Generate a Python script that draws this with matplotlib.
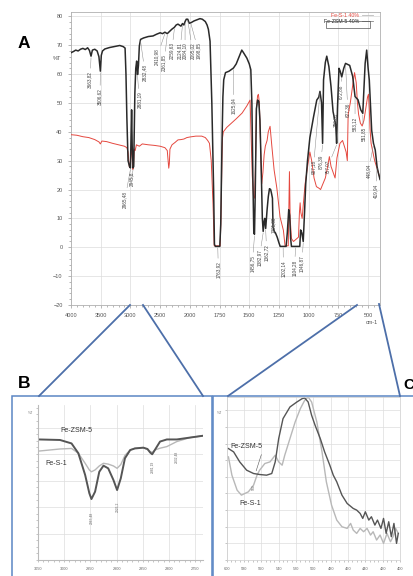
import matplotlib
matplotlib.use("Agg")
import matplotlib.pyplot as plt
import numpy as np
from matplotlib.lines import Line2D
from matplotlib.patches import Rectangle

plt.rcParams['font.family'] = ['Liberation Sans', 'DejaVu Sans']

# ---- panel A : full spectra (wavenumber, %T) ----
black_w = [4000, 3960, 3920, 3880, 3840, 3800, 3760, 3720, 3690, 3663, 3640, 3600, 3560, 3530,
           3506, 3490, 3470, 3430, 3350, 3250, 3180, 3120, 3090, 3075, 3060, 3040, 3015, 3000,
           2990, 2980, 2970, 2955, 2945, 2935, 2925, 2910, 2895, 2880, 2865, 2850, 2830, 2780,
           2700, 2620, 2560, 2500, 2460, 2420, 2380, 2330, 2305, 2260, 2230, 2200, 2150, 2124,
           2100, 2080, 2060, 2035, 2010, 1990, 1965, 1940, 1915, 1895, 1870, 1855, 1844, 1830,
           1815, 1800, 1793, 1785, 1765, 1748, 1740, 1730, 1722, 1715, 1700, 1670, 1633, 1610,
           1580, 1563, 1550, 1520, 1500, 1487, 1478, 1470, 1462, 1456, 1450, 1440, 1430, 1420,
           1410, 1400, 1390, 1383, 1375, 1370, 1362, 1350, 1340, 1330, 1320, 1312, 1305, 1300,
           1290, 1280, 1265, 1250, 1240, 1190, 1180, 1168, 1160, 1152, 1145, 1075, 1068, 1058,
           1046, 1035, 1025, 1010, 990, 960, 932, 915, 905, 892, 883, 875, 860, 848, 830, 812,
           795, 785, 772, 765, 758, 745, 735, 722, 705, 690, 655, 630, 610, 585, 562, 545, 535,
           525, 512, 500, 490, 470, 455, 440, 425, 415, 400]
black_t = [67.4, 67.8, 68.3, 68.0, 68.6, 68.9, 68.5, 69.1, 68.2, 66.2, 68.3, 68.6, 68.0, 66.0,
           61.0, 66.5, 68.0, 68.7, 69.2, 69.6, 69.9, 69.5, 69.0, 60.0, 45.0, 30.0, 28.0, 27.5,
           38.0, 47.6, 35.0, 27.5, 28.0, 40.0, 53.6, 62.0, 64.5, 59.8, 63.0, 69.7, 72.0, 72.5,
           73.0, 73.2, 73.8, 74.3, 74.0, 74.5, 74.0, 75.0, 75.5, 76.2, 77.0, 77.3, 76.6, 77.5,
           77.0, 78.2, 79.0, 79.0, 77.6, 77.8, 78.4, 78.8, 79.2, 79.0, 78.2, 77.0, 75.5, 71.4,
           50.0, 20.0, 1.0, 0.3, 0.3, 0.3, 8.0, 35.0, 52.0, 58.0, 60.5, 61.0, 62.1, 63.5,
           66.5, 68.3, 67.5, 65.5, 63.5, 61.5, 50.0, 25.0, 5.0, 4.5, 18.0, 48.0, 51.0, 50.5,
           44.0, 28.0, 10.0, 5.5, 9.0, 10.0, 6.5, 13.0, 17.5, 20.3, 20.0, 18.5, 17.0, 7.0,
           5.5, 5.0, 3.5, 1.5, 0.3, 0.3, 5.0, 13.0, 11.0, 3.0, 0.3, 0.3, 6.0, 5.0,
           2.0, 12.0, 22.0, 30.0, 38.0, 45.0, 51.0, 52.0, 54.0, 50.0, 36.0, 58.0, 64.0, 66.2, 62.6, 55.6,
           47.0, 45.0, 42.0, 36.0, 48.0, 62.0, 61.0, 59.0, 62.0, 63.7, 63.0, 59.2, 52.2, 51.1, 47.6, 46.4, 55.0,
           63.7, 68.3, 62.0, 57.9, 40.5, 36.0, 33.7, 28.0, 26.0, 23.5]

red_w = [4000, 3900, 3800, 3700, 3600, 3530, 3506, 3480, 3400, 3300, 3200, 3100, 3060, 3040,
         3020, 3005, 2990, 2975, 2960, 2948, 2935, 2920, 2900, 2850, 2800, 2700, 2600, 2500,
         2420, 2380, 2365, 2355, 2345, 2335, 2300, 2250, 2200, 2150, 2100, 2050, 2000, 1950,
         1900, 1870, 1850, 1835, 1820, 1805, 1795, 1745, 1738, 1730, 1725, 1718, 1690, 1650,
         1610, 1560, 1520, 1493, 1485, 1475, 1465, 1455, 1447, 1440, 1430, 1423, 1415, 1405,
         1395, 1385, 1375, 1365, 1350, 1340, 1325, 1310, 1291, 1268, 1241, 1213, 1199, 1172,
         1166, 1162, 1156, 1145, 1128, 1100, 1086, 1078, 1072, 1066, 1055, 1045, 1030, 1003,
         990, 975, 955, 935, 915, 900, 885, 860, 845, 826, 812, 795, 778, 762, 737, 715,
         700, 685, 675, 668, 650, 630, 614, 600, 590, 580, 565, 550, 535, 520, 505, 497,
         490, 484, 475, 460, 445, 430, 415, 400]
red_t = [39.0, 38.8, 38.3, 38.0, 37.3, 36.5, 35.8, 36.8, 36.6, 36.0, 35.5, 35.0, 34.5, 33.0,
         28.0, 27.5, 34.0, 32.0, 27.0, 28.0, 34.0, 33.5, 35.5, 35.0, 35.8, 35.5, 35.3, 35.0,
         34.5, 33.5, 30.0, 27.4, 29.0, 34.0, 35.5, 36.3, 37.2, 37.3, 37.5, 38.0, 38.2, 38.5,
         38.5, 38.0, 37.0, 36.0, 30.0, 15.0, 0.5, 0.5, 10.0, 30.0, 38.0, 40.0, 41.5, 43.0,
         44.5, 46.5, 49.0, 51.0, 40.0, 25.0, 18.0, 17.0, 30.0, 48.0, 52.5, 53.0, 50.0, 35.0,
         22.0, 26.0, 32.0, 35.0, 37.0, 40.0, 41.9, 35.0, 26.8, 20.5, 10.5, 5.9, 0.5, 0.5,
         15.0, 26.2, 10.0, 3.0, 2.0, 3.0, 3.5, 12.0, 15.4, 12.0, 10.0, 15.0, 22.0, 29.7,
         33.0, 30.0, 24.0, 21.0, 20.5, 20.0, 21.5, 24.0, 27.0, 31.4, 28.0, 26.0, 24.0, 31.0, 36.0, 37.0,
         35.0, 33.0, 30.0, 46.0, 50.0, 56.0, 60.5, 57.0, 50.0, 46.0, 43.0, 42.0, 44.0, 48.0, 52.0, 53.0,
         48.0, 41.0, 36.0, 33.0, 30.0, 28.0, 26.0, 24.0]

# peak labels: text, peak position, label centre (wavenumber, %T)
peak_txt = ["3663,82", "3506,62", "2965,48", "2945,8", "2881,19", "2832,48", "2410,98", "2361,85",
            "2259,63", "2124,81", "2084,10", "2095,02", "1998,85", "1763,92", "1625,04", "1456,75",
            "1382,97", "1362,72", "1301,00", "1202,14", "1104,28", "1046,87", "907,18", "876,39",
            "757,07", "789,81", "672,88", "627,36", "583,12", "551,85", "448,94", "419,94"]
peak_pos = [3663, 3506, 3000, 2955, 2880, 2830, 2420, 2380, 2260, 2124, 2080, 2035, 1990, 1765,
            1633, 1456, 1383, 1362, 1300, 1215, 1110, 1046, 905, 883, 765, 785, 722, 690, 610, 545, 455, 425]
lab_w = [3680, 3512, 3091, 2979, 2850, 2754, 2552, 2434, 2305, 2165, 2081, 1976, 1928, 1760,
         1634, 1474, 1415, 1353, 1297, 1213, 1120, 1058, 960, 898, 840, 778, 736, 671, 610, 540, 497, 433]
lab_t = [58.1, 52.2, 16.7, 23.7, 51.1, 60.5, 66.0, 64.0, 68.0, 68.0, 68.0, 68.0, 68.0, -7.7,
         49.0, -5.6, -3.5, -1.7, 7.7, -7.3, -7.0, -5.6, 27.8, 29.6, 27.8, 44.0, 54.0, 47.7, 42.8, 39.3, 26.4, 19.5]

xticks_a = [4000, 3500, 3000, 2500, 2000, 1750, 1500, 1250, 1000, 750, 500]
yticks_a = [-20, -10, 0, 10, 20, 30, 40, 50, 60, 70, 80]

# ---- panel B : 3050-2735 zoom ----
b_w = [3049, 3008, 2986, 2973, 2960, 2952, 2948, 2941, 2933, 2925, 2916, 2906, 2899, 2892, 2884,
       2874, 2865, 2849, 2841, 2836, 2832, 2827, 2817, 2804, 2785, 2760, 2735]
b_zsm = [4.55, 4.53, 4.40, 4.03, 3.21, 2.52, 2.30, 2.58, 3.33, 3.56, 3.46, 3.02, 2.64, 3.08, 3.84,
         4.15, 4.21, 4.24, 4.19, 4.06, 3.99, 4.15, 4.47, 4.55, 4.55, 4.62, 4.69]
b_s1 = [4.11, 4.19, 4.21, 4.03, 3.65, 3.40, 3.33, 3.40, 3.55, 3.65, 3.62, 3.55, 3.46, 3.60, 3.95,
        4.15, 4.22, 4.24, 4.17, 4.10, 4.06, 4.15, 4.22, 4.28, 4.47, 4.62, 4.69]
b_ticks = [3050, 3000, 2950, 2900, 2850, 2800, 2750]

# ---- panel C : 600-400 zoom ----
c_zsm_w = [598, 592, 585, 577, 569, 562, 554, 548, 544, 540, 535, 527, 519, 513, 510, 506, 502,
           498, 492, 487, 481, 477, 473, 467, 461, 454, 450, 446, 443, 440, 436, 433, 429, 426,
           422, 419, 416, 413, 410, 407, 404, 402]
c_zsm = [6.7, 6.5, 5.9, 5.4, 5.2, 5.14, 5.1, 5.2, 5.9, 7.3, 8.5, 9.2, 9.5, 9.7, 9.74, 9.5, 8.7,
         8.1, 7.3, 6.5, 5.7, 5.1, 4.7, 3.9, 3.4, 3.1, 3.0, 2.8, 2.5, 2.9, 2.4, 2.6, 2.1, 2.4,
         1.9, 2.5, 1.6, 2.3, 1.4, 2.2, 1.0, 1.6]
c_s1_w = [598, 594, 588, 583, 575, 569, 565, 562, 556, 550, 544, 540, 536, 533, 527, 521, 515,
          510, 506, 502, 496, 490, 485, 479, 473, 467, 461, 457, 454, 450, 446, 442, 438, 434,
          431, 427, 423, 419, 415, 411, 408, 405, 402]
c_s1 = [6.2, 5.1, 4.2, 3.9, 4.1, 4.5, 5.1, 5.4, 5.8, 5.9, 6.3, 5.9, 5.7, 6.3, 7.3, 8.3, 9.1,
        9.6, 9.8, 9.5, 8.3, 6.5, 4.7, 3.3, 2.4, 2.0, 1.9, 2.2, 1.8, 1.6, 1.9, 1.7, 1.9, 1.5,
        1.7, 1.2, 1.5, 1.0, 1.6, 1.1, 1.4, 1.9, 1.6]
c_ticks = [600, 580, 560, 540, 520, 500, 480, 460, 440, 420, 400]

W, H = 414, 576
fig = plt.figure(figsize=(W / 100, H / 100), dpi=100)


def fax(x0, y0, x1, y1):
    # pixel box -> figure fraction
    return [x0 / W, 1 - y1 / H, (x1 - x0) / W, (y1 - y0) / H]


def fwd(w):
    w = np.asarray(w, dtype=float)
    return np.where(w >= 2000, 4 + (w - 2000) / 500, 4 + (w - 2000) / 250)


def inv(u):
    u = np.asarray(u, dtype=float)
    return np.where(u >= 4, 2000 + (u - 4) * 500, 2000 + (u - 4) * 250)


grey = '#9a9a9a'
ax = fig.add_axes(fax(71, 12, 380, 305))
ax.set_xscale('function', functions=(fwd, inv))
ax.plot(red_w, red_t, color='#e5483f', lw=0.7, zorder=3)
ax.plot(black_w, black_t, color='#2a2a2a', lw=1.1, zorder=4)
ax.set_xlim(4000, 400)
ax.set_ylim(-20, 81.5)
ax.set_xticks(xticks_a)
ax.set_xticks(list(range(3900, 2000, -100)) + list(range(1950, 400, -50)), minor=True)
ax.set_yticks(yticks_a)
ax.set_yticks(range(-20, 82, 2), minor=True)
ax.grid(True, which='major', color='#dcdcdc', lw=0.5)
ax.tick_params(which='both', labelsize=4, colors=grey, labelcolor='#555555', width=0.5)
ax.tick_params(which='major', length=2.5)
ax.tick_params(which='minor', length=1.5)
for s in ax.spines.values():
    s.set_color('#b0b0b0')
    s.set_linewidth(0.6)
ax.text(-0.045, 0.835, '%T', transform=ax.transAxes, fontsize=4, color='#555555', ha='center')
ax.text(0.975, -0.065, 'cm-1', transform=ax.transAxes, fontsize=4, color='#555555', ha='center')

bw_inc = np.array(black_w[::-1])
bt_inc = np.array(black_t[::-1])
for txt, p, lw_, lt in zip(peak_txt, peak_pos, lab_w, lab_t):
    py = np.interp(p, bw_inc, bt_inc)
    ax.annotate(txt, xy=(p, py - 0.5), xytext=(lw_, lt), rotation=90, fontsize=3.3,
                color='#444444', ha='center', va='center', zorder=5,
                arrowprops=dict(arrowstyle='-', color='#8a8a8a', lw=0.35, shrinkA=0, shrinkB=0))

leg = ax.legend([Line2D([], [], color='#bbbbbb', lw=0.6), Line2D([], [], color='#888888', lw=0.6)],
                ['Fe-S-1 40%', 'Fe-ZSM-5 40%'], loc='upper right', bbox_to_anchor=(0.99, 1.01),
                fontsize=3.8, frameon=False, markerfirst=False, handlelength=2.2,
                labelspacing=0.2, borderpad=0.2, handletextpad=0.5)
leg.get_texts()[0].set_color('#e5483f')
leg.get_texts()[1].set_color('#222222')
fig.add_artist(Rectangle((326 / W, 1 - 28 / H), 44 / W, 7 / H, transform=fig.transFigure,
                         fill=False, lw=0.5, ec='#555555'))

# ---- panel B ----
bx = fig.add_axes(fax(38, 405, 203, 560))
bx.plot(b_w, b_s1, color='#b8b8b8', lw=1.0)
bx.plot(b_w, b_zsm, color='#555555', lw=1.4)
bx.set_xlim(3050, 2735)
bx.set_ylim(0, 5.85)
bx.set_xticks(b_ticks)
bx.set_xticks(np.arange(3050, 2735, -10), minor=True)
bx.set_yticks(range(0, 6))
bx.set_yticks(np.arange(0, 5.9, 0.25), minor=True)
bx.set_yticklabels([])
bx.grid(True, which='major', color='#dddddd', lw=0.5)
bx.tick_params(which='both', labelsize=2.8, colors=grey, labelcolor='#666666', width=0.4,
               length=1.2)
for s in bx.spines.values():
    s.set_visible(False)
bx.spines['bottom'].set_visible(True)
bx.spines['bottom'].set_color('#bbbbbb')
bx.spines['left'].set_visible(True)
bx.spines['left'].set_color('#bbbbbb')
bx.text(2976, 4.9, 'Fe-ZSM-5', fontsize=5, color='#333333', ha='center', va='center')
bx.text(3016, 3.66, 'Fe-S-1', fontsize=5, color='#333333', ha='center', va='center')
for xx, yy, t in [(2948, 1.6, '2965,48'), (2899, 2.0, '2926,2'), (2832, 3.5, '2881,19'),
                  (2785, 3.9, '2832,48')]:
    bx.text(xx, yy, t, rotation=90, fontsize=2.4, color='#666666', ha='center', va='center')
fig.text(31 / W, 1 - 414 / H, '%T', fontsize=2.5, color='#777777', ha='center')

# ---- panel C ----
cx = fig.add_axes(fax(226.7, 397, 400, 560))
cx.plot(c_s1_w, c_s1, color='#b8b8b8', lw=1.0)
cx.plot(c_zsm_w, c_zsm, color='#555555', lw=1.0)
cx.set_xlim(600, 400)
cx.set_ylim(0, 9.8)
cx.set_xticks(c_ticks)
cx.set_xticks(np.arange(600, 399, -5), minor=True)
cx.set_yticks(range(0, 10))
cx.set_yticklabels([])
cx.grid(True, which='major', color='#dddddd', lw=0.5)
cx.tick_params(which='both', labelsize=2.8, colors=grey, labelcolor='#666666', width=0.4,
               length=1.2)
for s in cx.spines.values():
    s.set_color('#cccccc')
    s.set_linewidth(0.5)
cx.text(577.7, 6.8, 'Fe-ZSM-5', fontsize=5, color='#333333', ha='center', va='center')
cx.text(573, 3.4, 'Fe-S-1', fontsize=5, color='#333333', ha='center', va='center')
cx.annotate('', xy=(567, 5.2), xytext=(559, 6.5),
            arrowprops=dict(arrowstyle='-', color='#555555', lw=0.4))
cx.text(569, 4.4, '550', rotation=90, fontsize=2.4, color='#666666', ha='center', va='center')
fig.text(220 / W, 1 - 414 / H, '%T', fontsize=2.5, color='#777777', ha='center')

# ---- frames, connectors, panel letters ----
blue = '#4d6fa9'
fig.add_artist(Rectangle((12 / W, -0.01), 200 / W, 1 - 396 / H + 0.01, transform=fig.transFigure,
                         fill=False, lw=1.1, ec='#5b86c4'))
fig.add_artist(Rectangle((213 / W, -0.01), 210 / W, 1 - 396 / H + 0.01, transform=fig.transFigure,
                         fill=False, lw=1.1, ec='#5b86c4'))
for (x1, y1, x2, y2) in [(130, 305, 39, 396), (143, 305, 203, 396),
                         (357, 305, 228, 396), (379, 304, 400, 396)]:
    fig.add_artist(Line2D([x1 / W, x2 / W], [1 - y1 / H, 1 - y2 / H], transform=fig.transFigure,
                          color=blue, lw=1.3))

fig.text(18 / W, 1 - 43 / H, 'A', fontsize=12.5, fontweight='bold', va='center')
fig.text(18 / W, 1 - 383 / H, 'B', fontsize=12.5, fontweight='bold', va='center')
fig.text(403 / W, 1 - 385 / H, 'C', fontsize=11, fontweight='bold', va='center')

fig.savefig('out.png', dpi=100)
